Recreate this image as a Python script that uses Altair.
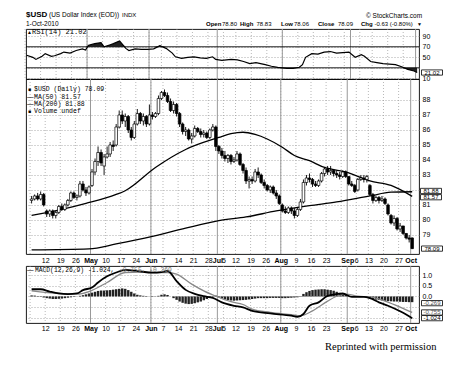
import altair as alt
import pandas as pd

# ---------------- data ----------------
holidays = ["2010-05-31", "2010-07-05", "2010-09-06"]
dates = [d for d in pd.bdate_range("2010-04-05", "2010-10-01").strftime("%Y-%m-%d") if d not in holidays]

opens = [81.3, 81.4, 81.6, 81.4, 81.7, 80.6, 80.4, 80.6, 80.3, 80.5, 80.9, 80.7, 81.0, 81.3, 81.8, 81.5, 81.6, 82.4, 82.0, 81.8,
         82.3, 83.2, 83.9, 84.5, 83.6, 84.2, 84.4, 85.0, 85.0, 86.2, 87.0, 86.6, 86.9, 86.0, 85.5, 86.4, 87.1, 86.6, 86.9, 86.4,
         87.0, 86.9, 87.1, 88.1, 88.5, 88.3, 87.9, 87.3, 87.7, 87.1, 86.4, 85.9, 86.0, 85.4, 85.6, 86.1, 85.9, 85.7, 85.8, 85.5, 86.0, 86.2,
         84.9, 84.6, 84.3, 84.1, 84.3, 83.9, 84.0, 84.4, 83.7, 83.3, 82.6, 82.7, 82.6, 83.2, 83.0, 82.5, 82.3, 82.0, 82.2, 81.8, 81.6, 81.0,
         80.6, 80.5, 80.8, 80.6, 80.3, 80.7, 81.2, 82.5, 82.8, 82.7, 82.4, 82.3, 82.6, 83.1, 83.4, 83.2, 83.3, 83.1, 83.0, 82.9, 83.2, 82.9,
         82.4, 82.3, 82.0, 82.7, 82.8, 82.7, 82.3, 81.7, 81.3, 81.5, 81.3, 81.4, 81.0, 80.3, 79.8, 80.1, 79.4, 79.6, 79.1, 78.8, 78.80]
highs = [81.6, 81.7, 81.8, 81.9, 81.8, 80.7, 80.7, 80.7, 80.6, 81.0, 81.1, 81.1, 81.4, 81.9, 81.9, 81.7, 82.6, 82.6, 82.2, 82.3,
         83.4, 84.1, 84.9, 84.7, 84.4, 84.9, 85.2, 85.3, 86.4, 87.3, 87.3, 87.1, 87.0, 86.2, 86.6, 87.4, 87.2, 87.1, 87.0, 87.7,
         87.2, 87.2, 88.3, 88.6, 88.7, 88.5, 88.1, 87.9, 87.8, 87.2, 86.5, 86.2, 86.1, 85.8, 86.3, 86.2, 86.1, 86.0, 85.9, 86.1, 86.4, 86.3,
         85.0, 84.8, 84.6, 84.4, 84.4, 84.2, 84.6, 84.5, 83.8, 83.5, 82.9, 82.9, 83.4, 83.5, 83.1, 82.7, 82.4, 82.3, 82.3, 82.0, 81.7, 81.1,
         80.9, 80.9, 80.9, 80.8, 80.8, 81.4, 82.7, 83.0, 83.1, 82.8, 82.6, 82.7, 83.2, 83.5, 83.6, 83.6, 83.4, 83.3, 83.2, 83.3, 83.3, 82.9,
         82.6, 82.4, 82.8, 83.0, 83.0, 83.0, 82.4, 81.8, 81.6, 81.6, 81.6, 81.5, 81.1, 80.4, 80.3, 80.2, 79.8, 79.6, 79.1, 79.0, 78.83]
lows = [81.1, 81.3, 81.3, 81.3, 80.9, 80.2, 80.2, 80.1, 80.1, 80.4, 80.6, 80.6, 80.9, 81.2, 81.4, 81.3, 81.5, 81.9, 81.6, 81.7,
        82.2, 83.0, 83.6, 83.6, 83.0, 84.1, 84.2, 84.6, 84.9, 86.1, 86.4, 86.2, 85.8, 85.3, 85.4, 86.3, 86.4, 86.3, 86.2, 86.3,
        86.7, 86.8, 87.0, 88.0, 88.2, 87.8, 87.2, 87.1, 86.9, 86.2, 85.7, 85.6, 85.3, 85.1, 85.5, 85.8, 85.5, 85.5, 85.4, 85.4, 85.9, 84.6,
        84.4, 84.1, 83.9, 83.8, 83.7, 83.8, 83.9, 83.6, 83.1, 82.4, 82.1, 82.4, 82.5, 82.8, 82.4, 82.1, 81.9, 81.8, 81.7, 81.4, 81.0, 80.5,
        80.4, 80.4, 80.4, 80.1, 80.2, 80.6, 81.1, 82.3, 82.5, 82.2, 82.2, 82.2, 82.5, 82.9, 83.0, 83.0, 82.9, 82.8, 82.7, 82.8, 82.8, 82.3,
        82.2, 81.8, 81.9, 82.6, 82.5, 82.5, 81.6, 81.1, 81.2, 81.1, 81.2, 81.0, 80.3, 79.7, 79.6, 79.3, 79.2, 79.0, 78.7, 78.5, 78.06]
closes = [81.4, 81.6, 81.4, 81.7, 81.0, 80.4, 80.6, 80.3, 80.5, 80.9, 80.7, 81.0, 81.3, 81.8, 81.5, 81.6, 82.4, 82.0, 81.8, 82.2,
          83.2, 83.9, 84.5, 83.8, 84.2, 84.4, 85.0, 84.9, 86.2, 87.0, 86.6, 86.9, 86.0, 85.5, 86.4, 87.1, 86.6, 86.9, 86.4, 87.0,
          86.9, 87.1, 88.1, 88.5, 88.3, 87.9, 87.3, 87.7, 87.1, 86.4, 85.9, 86.0, 85.4, 85.6, 86.1, 85.9, 85.7, 85.8, 85.5, 86.0, 86.2, 84.9,
          84.6, 84.3, 84.1, 84.3, 83.9, 84.0, 84.4, 83.7, 83.3, 82.6, 82.7, 82.6, 83.2, 83.0, 82.5, 82.3, 82.0, 82.2, 81.8, 81.6, 81.1, 80.6,
          80.5, 80.8, 80.6, 80.3, 80.7, 81.2, 82.5, 82.8, 82.7, 82.4, 82.3, 82.6, 83.1, 83.4, 83.2, 83.3, 83.1, 83.0, 82.9, 83.2, 82.9, 82.4,
          82.3, 81.9, 82.7, 82.8, 82.7, 82.9, 81.7, 81.3, 81.5, 81.3, 81.4, 81.1, 80.4, 79.8, 80.1, 79.4, 79.6, 79.1, 78.8, 78.72, 78.09]

ma50_bar = [0, 10, 18, 28, 31, 41, 51, 62, 66, 70, 74, 78, 83, 87, 92, 97, 104, 112, 119, 126]
ma50_val = [80.3, 80.7, 81.1, 81.7, 81.95, 83.5, 84.7, 85.5, 85.75, 85.85, 85.7, 85.4, 84.85, 84.3, 83.95, 83.5, 83.2, 82.6, 82.3, 81.57]
ma200_bar = [0, 19, 28, 40, 51, 62, 71, 81, 92, 101, 112, 119, 126]
ma200_val = [78.0, 78.07, 78.4, 78.9, 79.45, 79.95, 80.2, 80.6, 80.95, 81.2, 81.6, 81.85, 81.88]

rsi_bar = [0, 2, 3, 5, 6, 8, 9, 11, 12, 14, 16, 18, 19, 20, 22, 24, 25, 27, 28, 30,
           31, 32, 33, 35, 37, 39, 41, 43, 45, 47, 48, 50, 52, 54, 56, 58, 60, 61, 63, 66,
           68, 70, 72, 74, 77, 79, 81, 84, 86, 88, 89, 90, 92, 94, 96, 98, 100, 102, 104, 106,
           108, 109, 111, 113, 115, 117, 119, 121, 123, 125, 126]
rsi_val = [54, 50, 46, 52, 57, 52, 53, 57, 60, 58, 63, 66, 64, 73, 76, 78, 70, 74, 76, 81,
           74, 67, 63, 66, 65, 65, 66, 72, 67, 58, 51, 48, 50, 51, 49, 48, 51, 46, 44, 46,
           45, 42, 38, 40, 36, 33, 31, 29, 29, 31, 36, 50, 57, 56, 60, 61, 58, 59, 60, 50,
           55, 52, 42, 40, 38, 37, 36, 32, 27, 24, 21.02]

macd_bar = [0, 3, 6, 9, 12, 15, 17, 20, 22, 25, 28, 31, 35, 40, 43, 45, 48, 51, 54, 57,
            60, 63, 67, 70, 73, 79, 86, 88, 90, 92, 95, 98, 101, 103, 106, 110, 112, 115, 118, 122, 124, 126]
macd_val = [0.34, 0.34, 0.23, 0.14, 0.11, 0.14, 0.30, 0.42, 0.66, 0.95, 1.13, 1.25, 1.20, 1.12, 1.15, 1.20, 0.72, 0.31, 0.12, 0.01,
            -0.07, -0.28, -0.44, -0.52, -0.68, -0.80, -0.91, -0.96, -0.83, -0.44, -0.28, 0.03, 0.11, 0.14, -0.02, -0.02, -0.08, -0.28, -0.44, -0.70, -0.85, -1.024]
sig_bar = [0, 9, 15, 19, 25, 31, 36, 41, 45, 48, 53, 57, 61, 66, 70, 73, 79, 86, 89, 93, 98, 101, 104, 108, 112, 117, 122, 126]
sig_val = [0.26, 0.14, 0.11, 0.23, 0.66, 1.13, 1.15, 1.13, 1.13, 1.05, 0.58, 0.26, 0.01, -0.25, -0.38, -0.6, -0.75, -0.86, -0.91, -0.68,
           -0.22, 0.01, 0.11, 0.01, -0.02, -0.22, -0.5, -0.755]
hist_val = [0.05, 0.04, 0.02, -0.02, -0.05, -0.08, -0.10, -0.12, -0.12, -0.11, -0.10, -0.08, -0.06, -0.04, -0.02, 0.00, 0.03,
            0.06, 0.10, 0.14, 0.18, 0.22, 0.26, 0.28, 0.28, 0.29, 0.30, 0.32, 0.34, 0.36, 0.38, 0.36, 0.30, 0.22, 0.14,
            0.08, 0.05, 0.03, 0.02, 0.00, -0.02, -0.01, 0.03, 0.08, 0.10, 0.07, 0.00,
            -0.08, -0.16, -0.24, -0.30, -0.34, -0.36, -0.35, -0.32, -0.28, -0.24, -0.18, -0.12, -0.06, 0.02,
            0.04, -0.04, -0.10, -0.14, -0.17, -0.19, -0.20, -0.19, -0.18, -0.17, -0.16, -0.14, -0.12, -0.10, -0.08, -0.08, -0.08, -0.08,
            -0.07, -0.07, -0.07, -0.07, -0.08, -0.08, -0.07, -0.06, -0.05, -0.04, 0.02,
            0.12, 0.20, 0.26, 0.30, 0.32, 0.33, 0.34, 0.34, 0.32, 0.30, 0.27, 0.22, 0.17, 0.12, 0.08,
            0.03, 0.00, -0.02, 0.00, 0.01, 0.00,
            -0.04, -0.08, -0.12, -0.15, -0.17, -0.19, -0.21, -0.22, -0.23, -0.24, -0.24, -0.25, -0.26, -0.26, -0.27, -0.269]

tick_dates = ["2010-04-12", "2010-04-19", "2010-04-26", "2010-05-03", "2010-05-10", "2010-05-17", "2010-05-24",
              "2010-06-01", "2010-06-07", "2010-06-14", "2010-06-21", "2010-06-28", "2010-07-01", "2010-07-06",
              "2010-07-12", "2010-07-19", "2010-07-26", "2010-08-02", "2010-08-09", "2010-08-16", "2010-08-23",
              "2010-09-01", "2010-09-07", "2010-09-13", "2010-09-20", "2010-09-27", "2010-10-01"]
tick_labels = ["12", "19", "26", "May", "10", "17", "24", "Jun", "7", "14", "21", "28", "Jul", "5",
               "12", "19", "26", "Aug", "9", "16", "23", "Sep", "6", "13", "20", "27", "Oct"]
month_names = ["May", "Jun", "Jul", "Aug", "Sep", "Oct"]

rsi_last_val = [21.02]
rsi_last_lab = ["21.02"]
price_last_val = [81.88, 81.57, 78.09]
price_last_lab = ["81.88", "81.57", "78.09"]
macd_last_val = [-0.269, -0.755, -1.024]
macd_last_lab = ["-0.269", "-0.755", "-1.024"]

assert len(dates) == len(opens) == len(highs) == len(lows) == len(closes) == len(hist_val)

# ---------------- helpers ----------------
FONT = "Liberation Sans"
MONO = "Liberation Mono"
N = len(dates)
pos = {d: i for i, d in enumerate(dates)}

price_df = pd.DataFrame({"bar": list(range(N)), "open": opens, "high": highs, "low": lows, "close": closes})
hist_df = pd.DataFrame({"bar": list(range(N)), "h": hist_val})
tick_x = [pos[d] - 0.5 for d in tick_dates]

week_x, month_x = [], []
prev_w, prev_m = None, None
for i, d in enumerate(dates):
    ts = pd.Timestamp(d)
    w = ts.isocalendar()[1]
    if w != prev_w:
        week_x.append(i - 0.5)
    if prev_m is not None and ts.month != prev_m:
        month_x.append(i - 0.5)
    prev_w, prev_m = w, ts.month
week_df = pd.DataFrame({"g": week_x})
month_df = pd.DataFrame({"g": month_x})

expr = "''"
for xv, lab in reversed(list(zip(tick_x, tick_labels))):
    expr = f"datum.value == {xv} ? '{lab}' : ({expr})"
month_ticks = [xv for xv, lab in zip(tick_x, tick_labels) if lab in month_names]
weight = {"condition": {"test": f"indexof({month_ticks}, datum.value) >= 0", "value": "bold"}, "value": "normal"}

xscale = alt.Scale(domain=[-0.2, 126.6], nice=False, zero=False)


def make_xaxis(pad):
    return alt.Axis(values=tick_x, labelExpr=expr, labelFontWeight=weight, grid=False, ticks=False, tickSize=0,
                    domain=False, labelFont=FONT, labelFontSize=7, labelPadding=pad, labelColor="black",
                    title=None, labelOverlap=False)


def yaxis(values, fmt, hidden=None):
    kw = {}
    if hidden:
        kw["labelExpr"] = " || ".join(f"datum.value == {h}" for h in hidden) + " ? '' : datum.label"
    return alt.Axis(orient="right", values=values, format=fmt, grid=True, gridDash=[1, 2], gridColor="#888",
                    gridWidth=0.7, ticks=False, tickSize=0, domain=False, labelFont=FONT, labelFontSize=7,
                    labelPadding=3, labelColor="black", title=None, **kw)


def txt(s, x, y, size=7, font=FONT, weight="normal", color="black", align="left"):
    return alt.Chart(pd.DataFrame({"t": [s]})).mark_text(
        font=font, fontSize=size, fontWeight=weight, color=color, align=align, baseline="middle"
    ).encode(x=alt.value(x), y=alt.value(y), text="t:N")


BOX = "M-1,-0.25L1,-0.25L1,0.25L-1,0.25Z"


def panel(xaxis, yscale, yax):
    def X(f):
        return alt.X(f, type="quantitative", scale=xscale, axis=xaxis)

    def Y(f):
        return alt.Y(f, type="quantitative", scale=yscale, axis=yax)
    return X, Y


def vgrid(X):
    wk = alt.Chart(week_df).mark_rule(color="#999", strokeDash=[1, 2], strokeWidth=0.7).encode(x=X("g"))
    mo = alt.Chart(month_df).mark_rule(color="#999", strokeWidth=1).encode(x=X("g"))
    return [wk, mo]


def boxes(Y, vals, labs, xpix, tcolor="black", dy=0.0):
    df = pd.DataFrame({"v": vals, "lab": labs})
    b = alt.Chart(df).mark_point(shape=BOX, size=441, filled=True, fill="white", stroke="black",
                                 strokeWidth=0.8, opacity=1, yOffset=dy).encode(x=alt.value(xpix), y=Y("v"))
    t = alt.Chart(df).mark_text(font=FONT, fontSize=6, color=tcolor, align="center", baseline="middle",
                                dy=dy).encode(x=alt.value(xpix), y=Y("v"), text="lab:N")
    return [b, t]


W = 393
HS = 6  # header font size

# ---------------- RSI panel ----------------
Xr, Yr = panel(None, alt.Scale(domain=[8.7, 103.9], nice=False, zero=False),
               yaxis([10, 30, 50, 70, 90], "d", hidden=[30]))
rsi_df = pd.DataFrame({"bar": rsi_bar, "v": rsi_val})
rsi_layers = vgrid(Xr) + [
    alt.Chart(rsi_df).transform_calculate(top="max(datum.v, 70)").mark_area(color="#222").encode(
        x=Xr("bar"), y=Yr("top"), y2=alt.datum(70)),
    alt.Chart(rsi_df).transform_calculate(bot="min(datum.v, 30)").mark_area(color="#222").encode(
        x=Xr("bar"), y=Yr("bot"), y2=alt.datum(30)),
    alt.Chart(pd.DataFrame({"lvl": [70, 30]})).mark_rule(color="black", strokeWidth=0.9).encode(y=Yr("lvl")),
    alt.Chart(rsi_df).mark_line(color="black", strokeWidth=1.2).encode(x=Xr("bar"), y=Yr("v")),
    txt("\u25b2", 1, 3, size=5),
    txt("RSI(14) 21.02", 6, 3, size=7, font=MONO),
    # header
    txt("$USD", 0, -14, size=8, weight="bold"),
    txt("(US Dollar Index (EOD))", 23, -14, size=6.5),
    txt("INDX", 96, -14, size=6),
    txt("1-Oct-2010", 0, -5, size=6.5),
    txt("\u00a9 StockCharts.com", 340, -13.5, size=6.5),
    txt("Open", 180, -5, size=HS, weight="bold"),
    txt("78.80", 196, -5, size=HS),
    txt("High", 214, -5, size=HS, weight="bold"),
    txt("78.83", 230.5, -5, size=HS),
    txt("Low", 255, -5, size=HS, weight="bold"),
    txt("78.06", 268, -5, size=HS),
    txt("Close", 292, -5, size=HS, weight="bold"),
    txt("78.09", 312, -5, size=HS),
    txt("Chg", 335, -5, size=HS, weight="bold"),
    txt("-0.63 (-0.80%)", 348.5, -5, size=HS),
    txt("\u25bc", 391, -5, size=5),
] + boxes(Yr, rsi_last_val, rsi_last_lab, 406)
rsi_chart = alt.layer(*rsi_layers).properties(width=W, height=50)

# ---------------- price panel ----------------
Xp, Yp = panel(make_xaxis(2), alt.Scale(domain=[77.73, 89.4], nice=False, zero=False),
               yaxis(list(range(79, 89)), "d", hidden=[82]))
ma50_df = pd.DataFrame({"bar": ma50_bar, "v": ma50_val})
ma200_df = pd.DataFrame({"bar": ma200_bar, "v": ma200_val})
price_layers = vgrid(Xp) + [
    alt.Chart(ma200_df).mark_line(color="black", strokeWidth=1.3, interpolate="monotone").encode(x=Xp("bar"), y=Yp("v")),
    alt.Chart(ma50_df).mark_line(color="black", strokeWidth=1.3, interpolate="monotone").encode(x=Xp("bar"), y=Yp("v")),
    alt.Chart(price_df).mark_rule(color="black", strokeWidth=0.9).encode(x=Xp("bar"), y=Yp("low"), y2="high:Q"),
    alt.Chart(price_df).mark_bar(size=2.6, stroke="black", strokeWidth=0.7).encode(
        x=Xp("bar"), y=Yp("open"), y2="close:Q",
        fill=alt.condition("datum.close >= datum.open", alt.value("white"), alt.value("black"))),
    txt("\u25a0", 2, 10, size=5),
    txt("$USD (Daily) 78.09", 8, 10, size=6.5, font=MONO),
    txt("\u2014", 1, 17.5, size=6.5),
    txt("MA(50) 81.57", 8, 17.5, size=6.5, font=MONO),
    txt("\u2014", 1, 24.5, size=6.5),
    txt("MA(200) 81.88", 8, 24.5, size=6.5, font=MONO),
    txt("\u25a0", 2, 31.5, size=5),
    txt("Volume undef", 8, 31.5, size=6.5, font=MONO),
] + boxes(Yp, price_last_val[1:2], price_last_lab[1:2], 405, dy=0.8) \
  + boxes(Yp, price_last_val[0:1], price_last_lab[0:1], 405, dy=-0.8) \
  + boxes(Yp, price_last_val[2:3], price_last_lab[2:3], 406)
price_chart = alt.layer(*price_layers).properties(width=W, height=175)

# ---------------- spacer (room for the price panel's date labels) ----------------
spacer = alt.Chart(pd.DataFrame({"a": [0]})).mark_point(opacity=0).encode(
    x=alt.value(0), y=alt.value(0)).properties(width=W, height=11.7, view=alt.ViewBackground(strokeOpacity=0))

# ---------------- MACD panel ----------------
Xm, Ym = panel(make_xaxis(1), alt.Scale(domain=[-1.253, 1.437], nice=False, zero=False),
               yaxis([-1.0, -0.5, 0.0, 0.5, 1.0], ".1f", hidden=[-1, -0.5]))
macd_df = pd.DataFrame({"bar": macd_bar, "v": macd_val})
sig_df = pd.DataFrame({"bar": sig_bar, "v": sig_val})
macd_layers = vgrid(Xm) + [
    alt.Chart(hist_df).mark_bar(size=2.4, color="#222").encode(x=Xm("bar"), y=Ym("h"), y2=alt.datum(0)),
    alt.Chart(sig_df).mark_line(color="#888", strokeWidth=1.3, interpolate="monotone").encode(x=Xm("bar"), y=Ym("v")),
    alt.Chart(macd_df).mark_line(color="black", strokeWidth=1.8, interpolate="monotone").encode(x=Xm("bar"), y=Ym("v")),
    txt("\u2014", 1, 3.5, size=6.5),
    txt("MACD(12,26,9) -1.024,", 9, 3.5, size=6.3, font=MONO),
    txt("-0.755, -0.269", 93, 3.5, size=6.3, font=MONO, color="#777"),
    txt("Reprinted with permission", 299, 81, size=10.5, font="Liberation Serif"),
] + boxes(Ym, macd_last_val[0:1], macd_last_lab[0:1], 406, tcolor="#555", dy=1) \
  + boxes(Ym, macd_last_val[1:2], macd_last_lab[1:2], 406, tcolor="#555") \
  + boxes(Ym, macd_last_val[2:3], macd_last_lab[2:3], 406)
macd_chart = alt.layer(*macd_layers).properties(width=W, height=57)

chart = alt.vconcat(rsi_chart, price_chart, spacer, macd_chart, spacing=0, bounds="flush").properties(
    padding={"left": 15, "top": 2, "right": 5, "bottom": 5}
).configure(background="white").configure_view(stroke="black", strokeWidth=0.9)

chart.save("out.html", embed_options={"renderer": "svg", "actions": False})
